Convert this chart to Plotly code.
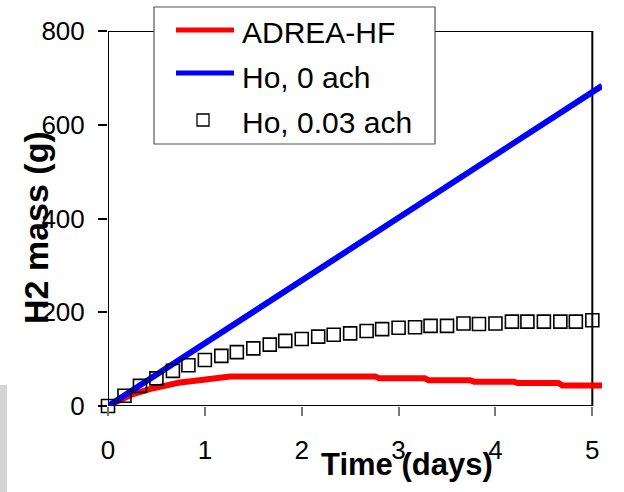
import plotly.graph_objects as go

# ADREA-HF simulation (red curve)
adrea_days = [0, 0.12, 0.25, 0.43, 0.6, 0.74, 0.9, 1.02, 1.15, 1.26, 2.76, 2.8, 3.27,
              3.31, 3.74, 3.78, 4.19, 4.23, 4.65, 4.69, 5.1]
adrea_mass = [0, 13, 25, 36, 44, 50, 54, 58, 61, 63, 63, 59, 59,
              55, 55, 52, 52, 49, 49, 44, 44]

# Ho model, 0 ach (blue line)
ho0_days = [0, 5.1]
ho0_mass = [0, 683]

# Ho model, 0.03 ach (open squares, every 4 h)
ho003_days = [0, 0.17, 0.33, 0.5, 0.67, 0.83, 1.0, 1.17, 1.33, 1.5, 1.67, 1.83, 2.0,
              2.17, 2.33, 2.5, 2.67, 2.83, 3.0, 3.17, 3.33, 3.5, 3.67, 3.83, 4.0,
              4.17, 4.33, 4.5, 4.67, 4.83, 5.0]
ho003_mass = [0, 22, 43, 59, 75, 87, 98, 107, 115, 123, 131, 139, 143,
              148, 152, 155, 160, 164, 167, 168, 171, 171, 176, 175, 176,
              180, 180, 180, 180, 180, 183]

x_ticks = [0, 1, 2, 3, 4, 5]
y_ticks = [0, 200, 400, 600, 800]
legend_names = ["ADREA-HF", "Ho, 0 ach", "Ho, 0.03 ach"]

FONT = "Liberation Sans, Arial, sans-serif"

# plot area in pixels
L, T, R, B = 108, 31, 602, 406
W, H = 624, 492


def px(x):
    return (x - L) / (R - L)


def py(y):
    return (B - y) / (B - T)


fig = go.Figure()
fig.add_trace(go.Scatter(x=adrea_days, y=adrea_mass, mode="lines",
                         line=dict(color="#ff0000", width=6), name=legend_names[0]))
fig.add_trace(go.Scatter(x=ho0_days, y=ho0_mass, mode="lines",
                         line=dict(color="#0000ff", width=6), name=legend_names[1]))
fig.add_trace(go.Scatter(x=ho003_days, y=ho003_mass, mode="markers", cliponaxis=False,
                         marker=dict(symbol="square-open", size=13, color="black",
                                     line=dict(width=1.6)),
                         name=legend_names[2]))

shapes = []
# frame (drawn under the data)
frame = dict(type="line", xref="x", yref="y", layer="below", line=dict(color="black", width=2))
shapes.append(dict(frame, x0=0, x1=0, y0=0, y1=800))
shapes.append(dict(frame, x0=0, x1=5, y0=0, y1=0))
shapes.append(dict(frame, x0=5, x1=5, y0=0, y1=800))
shapes.append(dict(frame, x0=0, x1=5, y0=800, y1=800))

# grey slide edge on the left
shapes.append(dict(type="rect", xref="paper", yref="paper", layer="below",
                   x0=px(0), x1=px(7), y0=py(492), y1=py(385),
                   fillcolor="#d4d4d4", line=dict(width=0)))

# legend box
shapes.append(dict(type="rect", xref="paper", yref="paper", layer="above",
                   x0=px(154), x1=px(435), y0=py(144), y1=py(7),
                   fillcolor="white", line=dict(color="#555555", width=1.2)))
shapes.append(dict(type="line", xref="paper", yref="paper", layer="above",
                   x0=px(176), x1=px(234), y0=py(30), y1=py(30),
                   line=dict(color="#ff0000", width=5)))
shapes.append(dict(type="line", xref="paper", yref="paper", layer="above",
                   x0=px(176), x1=px(234), y0=py(73), y1=py(73),
                   line=dict(color="#0000ff", width=5)))
shapes.append(dict(type="rect", xref="paper", yref="paper", layer="above",
                   x0=px(197), x1=px(209), y0=py(126), y1=py(114),
                   fillcolor="white", line=dict(color="black", width=1.3)))

annotations = []
for name, yy in zip(legend_names, [33, 78, 123]):
    annotations.append(dict(text=name, xref="paper", yref="paper", x=px(240), y=py(yy),
                            xanchor="left", yanchor="middle", showarrow=False,
                            font=dict(family=FONT, size=30, color="black")))
annotations.append(dict(text="Time (days)", xref="paper", yref="paper", x=px(407), y=py(464),
                        xanchor="center", yanchor="middle", showarrow=False,
                        font=dict(family=FONT, size=31, color="black", weight="bold")))
annotations.append(dict(text="H2 mass (g)", xref="paper", yref="paper", x=px(36), y=py(228),
                        xanchor="center", yanchor="middle", showarrow=False, textangle=-90,
                        font=dict(family=FONT, size=34, color="black", weight="bold")))

fig.update_layout(
    template="none",
    width=W, height=H,
    margin=dict(l=L, r=W - R, t=T, b=H - B, pad=0),
    paper_bgcolor="white", plot_bgcolor="white",
    showlegend=False,
    shapes=shapes, annotations=annotations,
    font=dict(family=FONT, color="black"),
)
fig.update_xaxes(range=[0, 5.1], tickvals=x_ticks, ticks="outside", ticklen=9, tickwidth=1.5,
                 tickcolor="#777777", showline=False, showgrid=False, zeroline=False,
                 automargin=False, tickfont=dict(size=26), ticklabelstandoff=12)
fig.update_yaxes(range=[0, 800], tickvals=y_ticks, ticks="outside", ticklen=9, tickwidth=1.5,
                 tickcolor="black", showline=False, showgrid=False, zeroline=False,
                 automargin=False, tickfont=dict(size=26), ticklabelstandoff=8)

fig.write_html("out.html", config={"displayModeBar": False},
               post_script="document.body.style.margin='0';")
